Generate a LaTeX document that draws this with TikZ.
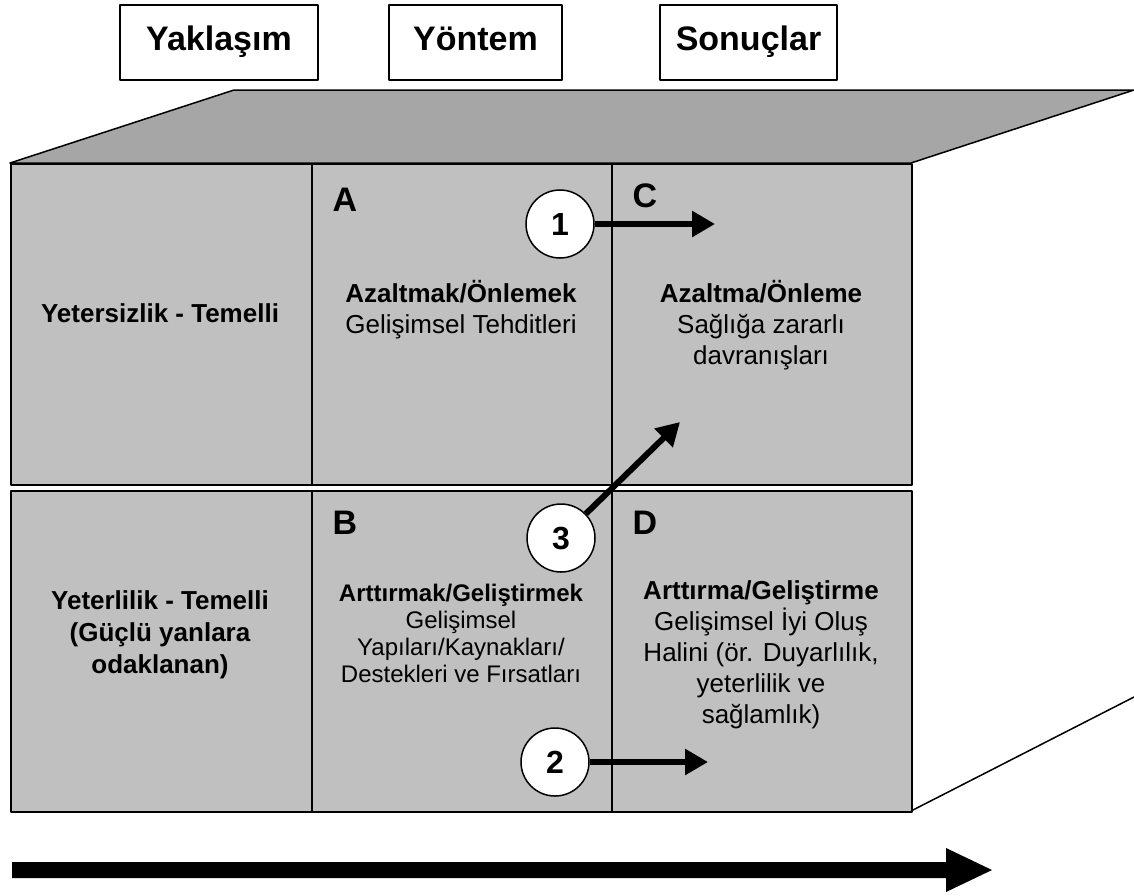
\documentclass[tikz,border=0pt]{standalone}
\usepackage{fontspec}
\setmainfont{Liberation Sans}
\usetikzlibrary{arrows.meta}
\definecolor{frontgray}{HTML}{C0C0C0}
\definecolor{topgray}{HTML}{A6A6A6}
\begin{document}
\begin{tikzpicture}[x=1pt,y=-1pt,
  edge/.style={line width=1.5pt, line join=round},
  cell/.style={draw, edge, fill=frontgray, anchor=north west, inner sep=0pt,
    minimum height=321pt},
  wide/.style={minimum width=301pt},
  narrow/.style={minimum width=300pt},
  labelbox/.style={draw, edge, fill=white, minimum height=75pt,
    text height=25pt, text depth=10pt, inner sep=0pt,
    font=\fontsize{34}{40}\selectfont\bfseries},
  celltext/.style={align=center, font=\fontsize{26}{31}\selectfont},
  smalltext/.style={align=center, font=\fontsize{24}{27}\selectfont},
  letter/.style={font=\fontsize{34}{40}\selectfont\bfseries},
  stage/.style={circle, draw, edge, fill=white, minimum size=68pt, inner sep=0pt,
    font=\fontsize{32}{38}\selectfont\bfseries},
  flow/.style={line width=6pt, -{Triangle[length=23pt,width=25pt]}}
]
\useasboundingbox (0,0) rectangle (1134,895);

% column headings
\node[labelbox, minimum width=198pt] (hA) at (219,42.5) {Yakla\c{s}\i m};
\node[labelbox, minimum width=173pt] (hM) at (475.5,42.5) {Yöntem};
\node[labelbox, minimum width=177pt] (hR) at (748.5,42.5) {Sonuçlar};

% top face and side edge of the block
\draw[edge, fill=topgray] (10,163) -- (234,90) -- (1134,90) -- (911,163) -- cycle;
\draw[edge] (911,811) -- (1134,697);

% front face: two rows of three cells
\node[cell, wide]   (r1c1) at (10,163) {};
\node[cell, narrow] (r1c2) at (311,163) {};
\node[cell, narrow] (r1c3) at (611,163) {};
\node[cell, wide]   (r2c1) at (10,490) {};
\node[cell, narrow] (r2c2) at (311,490) {};
\node[cell, narrow] (r2c3) at (611,490) {};

% row labels
\node[celltext, font=\fontsize{26}{31}\selectfont\bfseries] (deficit) at (160,313)
  {Yetersizlik - Temelli};
\node[celltext, font=\fontsize{26}{32}\selectfont\bfseries] (strength) at (160,635)
  {Yeterlilik - Temelli\\(Güçlü yanlara\\odaklanan)};

% quadrant letters
\node[letter] (qA) at (345,200) {A};
\node[letter] (qC) at (645,196) {C};
\node[letter] (qB) at (345,523) {B};
\node[letter] (qD) at (645,523) {D};

% quadrant texts
\node[celltext] (tA) at (461,309.5)
  {\textbf{Azaltmak/Önlemek}\\Geli\c{s}imsel Tehditleri};
\node[celltext] (tC) at (761,325)
  {\textbf{Azaltma/Önleme}\\Sa\u{g}l\i\u{g}a zararl\i\\davran\i\c{s}lar\i};
\node[smalltext] (tB) at (461,633)
  {\textbf{Artt\i rmak/Geli\c{s}tirmek}\\Geli\c{s}imsel\\Yap\i lar\i/Kaynaklar\i/\\Destekleri ve F\i rsatlar\i};
\node[celltext] (tD) at (761,655)
  {\textbf{Artt\i rma/Geli\c{s}tirme}\\Geli\c{s}imsel \.{I}yi Olu\c{s}\\Halini (ör. Duyarl\i l\i k,\\yeterlilik ve\\sa\u{g}laml\i k)};

% numbered stages and their arrows
\coordinate (e1) at (715,224);
\coordinate (e2) at (708,762);
\coordinate (e3) at (680,422);
\node[stage] (s1) at (560,224) {1};
\node[stage] (s2) at (555,762) {2};
\node[stage] (s3) at (561,538) {3};
\draw[flow] (s1) -- (e1);
\draw[flow] (s2) -- (e2);
\draw[flow] (s3) -- (e3);

% broad direction arrow under the block
\fill (12,862) -- (946,862) -- (946,848) -- (992,870) -- (946,892) -- (946,878) -- (12,878) -- cycle;
\end{tikzpicture}
\end{document}
